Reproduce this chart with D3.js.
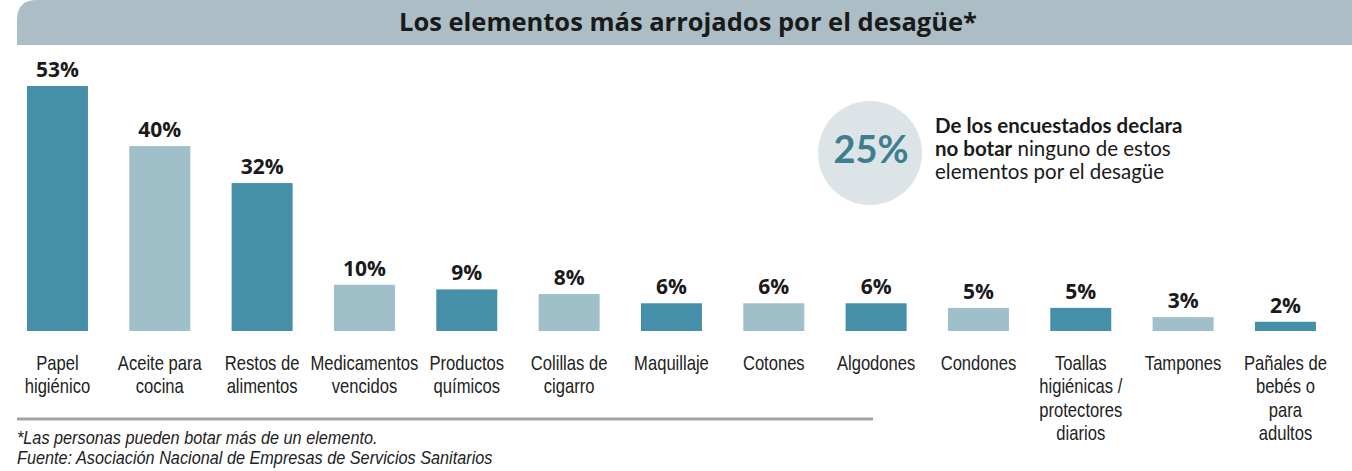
<!DOCTYPE html>
<html>
<head>
<meta charset="utf-8">
<script src="https://cdn.jsdelivr.net/npm/d3@7"></script>
<style>
  html, body { margin: 0; padding: 0; background: #fff; }
  svg { display: block; }
</style>
</head>
<body>
<div id="chart"></div>
<script>
const title = "Los elementos más arrojados por el desagüe*";
const categories = [
  "Papel|higiénico", "Aceite para|cocina", "Restos de|alimentos", "Medicamentos|vencidos",
  "Productos|químicos", "Colillas de|cigarro", "Maquillaje", "Cotones", "Algodones",
  "Condones", "Toallas|higiénicas /|protectores|diarios", "Tampones", "Pañales de|bebés o|para|adultos"
];
const values = [53, 40, 32, 10, 9, 8, 6, 6, 6, 5, 5, 3, 2];
const barTones = ["dark", "light", "dark", "light", "dark", "light", "dark", "light", "dark", "light", "dark", "light", "dark"];
const calloutValue = "25%";
const calloutLines = [
  [["De los encuestados declara", true]],
  [["no botar", true], [" ninguno de estos", false]],
  [["elementos por el desagüe", false]]
];
const footnotes = [
  "*Las personas pueden botar más de un elemento.",
  "Fuente: Asociación Nacional de Empresas de Servicios Sanitarios"
];

const W = 1352, H = 471;
const colors = { dark: "#4590a8", light: "#9fc0c9" };
const labelFont = "'Liberation Sans', Arial, sans-serif";

const svg = d3.select("#chart").append("svg").attr("width", W).attr("height", H);

// Title band with rounded top-left corner
const bx = 17, bh = 45, r = 20;
svg.append("path")
  .attr("d", `M${bx},${bh} L${bx},${r} Q${bx},0 ${bx + r},0 L${W},0 L${W},${bh} Z`)
  .attr("fill", "#acbec5");
svg.append("text")
  .attr("x", 688).attr("y", 31)
  .attr("text-anchor", "middle")
  .attr("font-family", "'Open Sans', Lato, sans-serif")
  .attr("font-weight", "bold")
  .attr("font-size", 25.5)
  .attr("fill", "#1a1a1a")
  .text(title);

const x = d3.scaleBand().domain(categories).range([6.5, 1336.4]).paddingInner(0.404).paddingOuter(0.2);
const y = d3.scaleLinear().domain([0, 53]).range([331, 86]);

svg.selectAll("rect.bar").data(values).join("rect")
  .attr("class", "bar")
  .attr("x", (d, i) => x(categories[i]))
  .attr("width", x.bandwidth())
  .attr("y", d => y(d))
  .attr("height", d => y(0) - y(d))
  .attr("fill", (d, i) => colors[barTones[i]]);

svg.selectAll("text.val").data(values).join("text")
  .attr("class", "val")
  .attr("x", (d, i) => x(categories[i]) + x.bandwidth() / 2)
  .attr("y", d => y(d) - 9)
  .attr("text-anchor", "middle")
  .attr("font-family", "'Open Sans', Lato, sans-serif")
  .attr("font-weight", "bold")
  .attr("font-size", 21)
  .attr("fill", "#1a1a1a")
  .text(d => d + "%");

// Category labels (horizontally condensed)
const catG = svg.selectAll("g.cat").data(categories).join("g")
  .attr("class", "cat")
  .attr("transform", c => `translate(${x(c) + x.bandwidth() / 2},0) scale(0.83,1)`);
catG.append("text")
  .attr("text-anchor", "middle")
  .attr("font-family", labelFont)
  .attr("font-size", 20)
  .attr("fill", "#222")
  .each(function(c) {
    const t = d3.select(this);
    c.split("|").forEach((line, j) => {
      t.append("tspan").attr("x", 0).attr("y", 370 + j * 23.5).text(line);
    });
  });

// Callout
svg.append("circle").attr("cx", 870).attr("cy", 153).attr("r", 52).attr("fill", "#dde4e7");
svg.append("text")
  .attr("x", 871).attr("y", 163)
  .attr("text-anchor", "middle")
  .attr("font-family", "Lato, 'Open Sans', sans-serif")
  .attr("font-weight", "bold")
  .attr("font-size", 38)
  .attr("fill", "#3e7e8e")
  .text(calloutValue);
const ct = svg.append("text")
  .attr("font-family", "Lato, 'Open Sans', sans-serif")
  .attr("font-size", 20.5)
  .attr("fill", "#1a1a1a");
calloutLines.forEach((parts, i) => {
  parts.forEach((p, k) => {
    const ts = ct.append("tspan").attr("font-weight", p[1] ? "bold" : "normal").text(p[0]);
    if (k === 0) ts.attr("x", 935).attr("y", 133 + i * 23);
  });
});

// Separator and footnotes
svg.append("line").attr("x1", 17).attr("x2", 873).attr("y1", 419).attr("y2", 419)
  .attr("stroke", "#a3a3a3").attr("stroke-width", 3);
svg.selectAll("g.foot").data(footnotes).join("g")
  .attr("class", "foot")
  .attr("transform", (d, i) => `translate(17,${444 + i * 20}) scale(0.93,1)`)
  .append("text")
  .attr("x", 0).attr("y", 0)
  .attr("font-family", labelFont)
  .attr("font-style", "italic")
  .attr("font-size", 17.5)
  .attr("fill", "#222")
  .text(d => d);
</script>
</body>
</html>
